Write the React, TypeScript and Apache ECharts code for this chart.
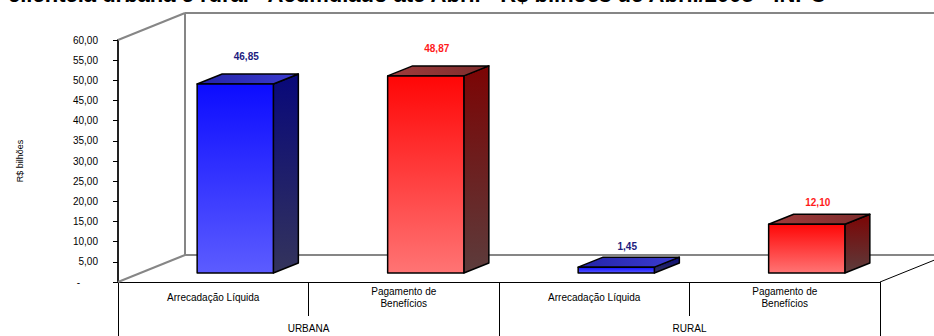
import React, { useEffect, useRef } from "react";
import * as echarts from "echarts";

const titleText = "clientela urbana e rural - Acumulado até Abril - R$ bilhões de Abril/2005 - INPC";
const yAxisTitle = "R$ bilhões";
const categories = ["Arrecadação Líquida", "Pagamento de\nBenefícios", "Arrecadação Líquida", "Pagamento de\nBenefícios"];
const groups = ["URBANA", "RURAL"];
const values = [46.85, 48.87, 1.45, 12.1];
const kinds = ["arrecadacao", "pagamento", "arrecadacao", "pagamento"];
const yMin = 0;
const yMax = 60;
const yInterval = 5;

const fmt = (v: number) => v.toFixed(2).replace(".", ",");

const palette: Record<string, any> = {
  arrecadacao: {
    front: ["#0c0cff", "#5c5cff"],
    side: ["#08087a", "#34345c"],
    top: ["#2424a8", "#3c3cd0"],
    label: "#1c1c80",
  },
  pagamento: {
    front: ["#ff0606", "#ff7474"],
    side: ["#7c0404", "#5c3c3c"],
    top: ["#a03c3c", "#7c2c2c"],
    label: "#ff1a1a",
  },
};

const grad = (c: string[], horizontal = false) =>
  new echarts.graphic.LinearGradient(0, 0, horizontal ? 1 : 0, horizontal ? 0 : 1, [
    { offset: 0, color: c[0] },
    { offset: 1, color: c[1] },
  ]);

export default function App() {
  const ref = useRef<HTMLDivElement>(null);
  useEffect(() => {
    if (!ref.current) return;
    const chart = echarts.init(ref.current, undefined, { renderer: "svg" });
    const font = "Arial, 'Liberation Sans', sans-serif";
    const option: any = {
      animation: false,
      backgroundColor: "#ffffff",
      textStyle: { fontFamily: font },
      grid: { left: 118, right: 54, top: 40, bottom: 54, containLabel: false },
      graphic: [
        {
          type: "text",
          x: 8,
          y: -6,
          style: {
            text: titleText,
            font: "bold 22px Arial, 'Liberation Sans', sans-serif",
            fill: "#000",
            align: "left",
            verticalAlign: "middle",
          },
        },
        {
          type: "text",
          x: 20,
          y: 161,
          rotation: Math.PI / 2,
          style: {
            text: yAxisTitle,
            font: "9px Arial, 'Liberation Sans', sans-serif",
            fill: "#000",
            align: "center",
            verticalAlign: "middle",
          },
        },
      ],
      xAxis: [
        {
          type: "category",
          data: categories,
          position: "bottom",
          axisLine: { show: true, lineStyle: { color: "#000", width: 1 } },
          axisTick: { show: true, interval: 0, length: 34, lineStyle: { color: "#000", width: 1 } },
          axisLabel: {
            interval: 0,
            margin: 15,
            verticalAlign: "middle",
            fontSize: 10,
            lineHeight: 12,
            color: "#000",
            fontFamily: font,
          },
          splitLine: { show: false },
        },
        {
          type: "category",
          data: groups,
          position: "bottom",
          axisLine: { show: false },
          axisTick: { show: true, interval: 0, length: 54, lineStyle: { color: "#000", width: 1 } },
          axisLabel: {
            interval: 0,
            margin: 46,
            verticalAlign: "middle",
            fontSize: 10,
            color: "#000",
            fontFamily: font,
          },
          splitLine: { show: false },
        },
      ],
      yAxis: {
        type: "value",
        min: yMin,
        max: yMax,
        interval: yInterval,
        axisLine: { show: true, lineStyle: { color: "#222", width: 2 } },
        axisTick: { show: true, length: 5, lineStyle: { color: "#000", width: 1 } },
        splitLine: { show: false },
        axisLabel: {
          margin: 20,
          fontSize: 10,
          color: "#000",
          fontFamily: font,
          formatter: (v: number) => (v === 0 ? "{z|-}" : fmt(v)),
          rich: { z: { padding: [0, 18, 0, 0], fontSize: 10, color: "#000" } },
        },
      },
      series: [
        {
          type: "custom",
          silent: true,
          z: 1,
          clip: false,
          data: [[0, 0]],
          renderItem: (params: any) => {
            const cs = params.coordSys;
            const L = cs.x;
            const R = cs.x + cs.width;
            const T = cs.y;
            const B = cs.y + cs.height;
            const dx = 67;
            const dy = -27;
            const gray = { stroke: "#868686", lineWidth: 2 };
            const line = (x1: number, y1: number, x2: number, y2: number, style: any) => ({
              type: "line",
              shape: { x1, y1, x2, y2 },
              style,
            });
            return {
              type: "group",
              children: [
                line(L, T, L + dx, T + dy, gray),
                line(L, B, L + dx, B + dy, gray),
                line(L + dx, T + dy, L + dx, B + dy, gray),
                line(L + dx, T + dy, R + dx, T + dy, gray),
                line(L + dx, B + dy, R + dx, B + dy, gray),
                line(R + dx, T + dy, R + dx, B + dy, gray),
                line(R, B, R + dx, B + dy, { stroke: "#000", lineWidth: 1 }),
              ],
            };
          },
        },
        {
          type: "custom",
          z: 3,
          clip: false,
          data: values.map((v, i) => [i, v]),
          renderItem: (params: any, api: any) => {
            const i = api.value(0);
            const v = api.value(1);
            const base = api.coord([i, 0]);
            const top = api.coord([i, v]);
            const band = api.size([1, 0])[0];
            const w = band * 0.4;
            const ox = 22;
            const oy = -9;
            const dx = 25;
            const dy = -10;
            const x0 = base[0] - w / 2 + ox;
            const x1 = x0 + w;
            const yb = base[1] + oy;
            const yt = top[1] + oy;
            const p = palette[kinds[i]];
            const stroke = { stroke: "#000", lineWidth: 1.5, lineJoin: "round" };
            return {
              type: "group",
              children: [
                {
                  type: "polygon",
                  shape: { points: [[x1, yt], [x1 + dx, yt + dy], [x1 + dx, yb + dy], [x1, yb]] },
                  style: { fill: grad(p.side), ...stroke },
                },
                {
                  type: "polygon",
                  shape: { points: [[x0, yt], [x0 + dx, yt + dy], [x1 + dx, yt + dy], [x1, yt]] },
                  style: { fill: grad(p.top, true), ...stroke },
                },
                {
                  type: "rect",
                  shape: { x: x0, y: yt, width: w, height: yb - yt },
                  style: { fill: grad(p.front), ...stroke },
                },
                {
                  type: "text",
                  x: (x0 + x1) / 2 + 11,
                  y: yt + dy - 10 - v * 0.16,
                  style: {
                    text: fmt(v),
                    fill: p.label,
                    font: "bold 10px Arial, 'Liberation Sans', sans-serif",
                    align: "center",
                    verticalAlign: "middle",
                  },
                },
              ],
            };
          },
        },
      ],
    };
    chart.setOption(option);
    return () => chart.dispose();
  }, []);
  return (
    <div
      ref={ref}
      style={{ position: "absolute", left: 0, top: 0, width: 934, height: 336, background: "#fff" }}
    />
  );
}
